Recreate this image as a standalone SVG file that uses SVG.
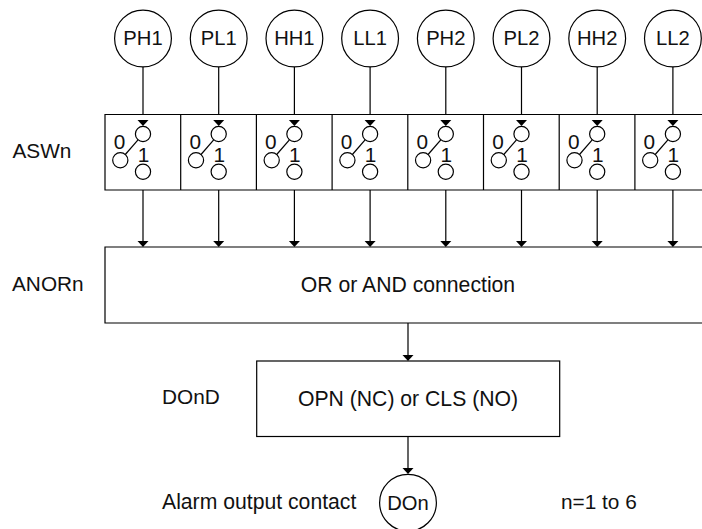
<svg xmlns="http://www.w3.org/2000/svg" width="702" height="529" viewBox="0 0 702 529">
<style>
.s{fill:#fff;stroke:#000;stroke-width:1.2}
.c{fill:none;stroke:#000;stroke-width:1.2}
text{font-family:"Liberation Sans",Arial,sans-serif;font-size:20.8px;fill:#111}
.m{text-anchor:middle}
.n{font-size:20.2px}
.l{font-size:21.2px}
</style>
<defs>
<path id="h" d="M-5.500 -6H5.500L0 0Z" fill="#000"/>
<g id="sw">
<circle class="s" cx="0" cy="134" r="7.600"/>
<circle class="s" cx="-22.700" cy="160.300" r="7.600"/>
<circle class="s" cx="0" cy="171.800" r="7.600"/>
<path class="c" d="M-5 139.800L-17.700 154.500"/>
<text x="-23.500" y="149" class="m">0</text>
<text x="0.500" y="161.500" class="m">1</text>
</g>
</defs>
<g id="connectors">
<path class="c" d="M143 67V120M218.700 67V120M294.400 67V120M370.100 67V120M445.800 67V120M521.500 67V120M597.200 67V120M672.900 67V120"/>
<path class="c" d="M143 179.500V241M218.700 179.500V241M294.400 179.500V241M370.100 179.500V241M445.800 179.500V241M521.500 179.500V241M597.200 179.500V241M672.900 179.500V241"/>
<path class="c" d="M408 323V355M408 436.500V468"/>
<use href="#h" x="143" y="247"/><use href="#h" x="218.700" y="247"/><use href="#h" x="294.400" y="247"/><use href="#h" x="370.100" y="247"/><use href="#h" x="445.800" y="247"/><use href="#h" x="521.500" y="247"/><use href="#h" x="597.200" y="247"/><use href="#h" x="672.900" y="247"/>
<use href="#h" x="408" y="361"/><use href="#h" x="408" y="474"/>
</g>
<g id="ASWn-block">
<path class="s" d="M702 114.500H105V190H702"/>
<path class="c" d="M180.700 114.500V190M256.400 114.500V190M332.100 114.500V190M407.800 114.500V190M483.500 114.500V190M559.200 114.500V190M634.900 114.500V190"/>
</g>
<g id="sw1"><use href="#sw" x="143"/><use href="#h" x="143" y="126"/></g>
<g id="sw2"><use href="#sw" x="218.700"/><use href="#h" x="218.700" y="126"/></g>
<g id="sw3"><use href="#sw" x="294.400"/><use href="#h" x="294.400" y="126"/></g>
<g id="sw4"><use href="#sw" x="370.100"/><use href="#h" x="370.100" y="126"/></g>
<g id="sw5"><use href="#sw" x="445.800"/><use href="#h" x="445.800" y="126"/></g>
<g id="sw6"><use href="#sw" x="521.500"/><use href="#h" x="521.500" y="126"/></g>
<g id="sw7"><use href="#sw" x="597.200"/><use href="#h" x="597.200" y="126"/></g>
<g id="sw8"><use href="#sw" x="672.900"/><use href="#h" x="672.900" y="126"/></g>
<g id="PH1"><circle class="s" cx="143" cy="38.500" r="28.400"/><text x="143" y="44.500" class="m n">PH1</text></g>
<g id="PL1"><circle class="s" cx="218.700" cy="38.500" r="28.400"/><text x="218.700" y="44.500" class="m n">PL1</text></g>
<g id="HH1"><circle class="s" cx="294.400" cy="38.500" r="28.400"/><text x="294.400" y="44.500" class="m n">HH1</text></g>
<g id="LL1"><circle class="s" cx="370.100" cy="38.500" r="28.400"/><text x="370.100" y="44.500" class="m n">LL1</text></g>
<g id="PH2"><circle class="s" cx="445.800" cy="38.500" r="28.400"/><text x="445.800" y="44.500" class="m n">PH2</text></g>
<g id="PL2"><circle class="s" cx="521.500" cy="38.500" r="28.400"/><text x="521.500" y="44.500" class="m n">PL2</text></g>
<g id="HH2"><circle class="s" cx="597.200" cy="38.500" r="28.400"/><text x="597.200" y="44.500" class="m n">HH2</text></g>
<g id="LL2"><circle class="s" cx="672.900" cy="38.500" r="28.400"/><text x="672.900" y="44.500" class="m n">LL2</text></g>
<g id="ANOR"><path class="s" d="M702 247H105V323H702"/><text x="408" y="291.500" class="m l">OR or AND connection</text></g>
<g id="OPN"><rect class="s" x="256.700" y="361" width="303" height="75.500"/><text x="408" y="405.500" class="m l">OPN (NC) or CLS (NO)</text></g>
<g id="DOn"><circle class="s" cx="408" cy="502.700" r="28.400"/><text x="408" y="510" class="m n">DOn</text></g>
<g id="labels">
<text x="12.500" y="157.500">ASWn</text>
<text x="12" y="291">ANORn</text>
<text x="162" y="404">DOnD</text>
<text x="162" y="508.500" class="l">Alarm output contact</text>
<text x="561" y="509">n=1 to 6</text>
</g>
</svg>
